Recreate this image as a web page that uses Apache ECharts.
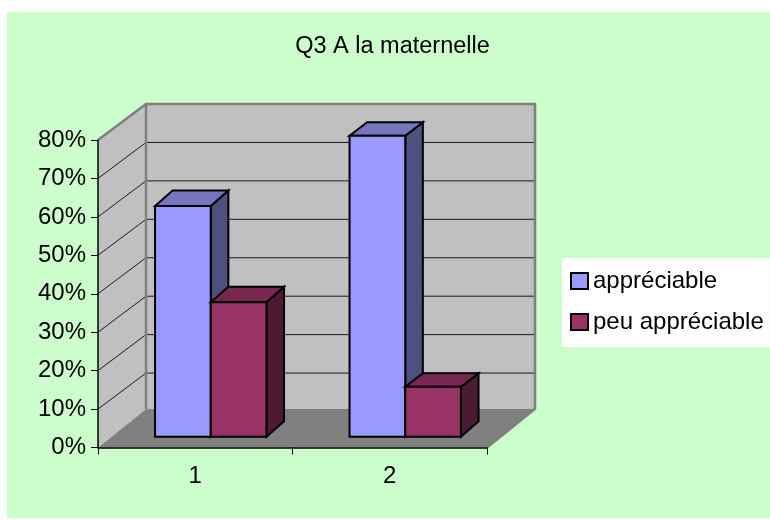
<!DOCTYPE html>
<html>
<head>
<meta charset="utf-8">
<style>
  html, body { margin: 0; padding: 0; background: #fff; }
  #main { width: 770px; height: 520px; }
</style>
<script src="https://cdn.jsdelivr.net/npm/echarts@6/dist/echarts.min.js"></script>
</head>
<body>
<div id="main"></div>
<script>
var categories = ['1', '2']
var appreciable = [60, 78.3]
var peuAppreciable = [35, 13]
var gridTicks = [10, 20, 30, 40, 50, 60, 70]

var fontName = '"Liberation Sans", Arial, sans-serif'
// depth of the fake 3d box, in pixels
var wallDx = 48
var floorDy = -38.5
var wallDy = -36
var barDx = 17.6
var barDy = [-15.5, -13.5]
var barInsetDx = 15.5
var barInsetDy = -10.8
var barWidth = 55.7

function poly (points, fill, stroke, lineWidth) {
  return {
    type: 'polygon',
    shape: { points: points },
    style: { fill: fill, stroke: stroke, lineWidth: lineWidth || 0, lineJoin: 'miter' }
  }
}

function line (a, b, color, width) {
  return {
    type: 'line',
    shape: { x1: a[0], y1: a[1], x2: b[0], y2: b[1] },
    style: { stroke: color, lineWidth: width }
  }
}

function renderWalls (params, api) {
  var cs = params.coordSys
  var left = cs.x
  var right = cs.x + cs.width
  var bottom = api.coord([0, 0])[1]
  var top = api.coord([0, 80])[1]
  var backBottom = bottom + floorDy
  var backTop = top + wallDy
  var kids = []
  kids.push(poly([[left, bottom], [right, bottom], [right + wallDx, backBottom], [left + wallDx, backBottom]], '#808080'))
  kids.push(poly([[left, bottom], [left + wallDx, backBottom], [left + wallDx, backTop], [left, top]], '#C0C0C0'))
  kids.push(poly([[left + wallDx, backBottom], [right + wallDx, backBottom], [right + wallDx, backTop], [left + wallDx, backTop]], '#C0C0C0'))
  gridTicks.forEach(function (t) {
    var y = api.coord([0, t])[1]
    kids.push(line([left, y], [left + wallDx, y + wallDy], '#1a1a1a', 1))
    kids.push(line([left + wallDx, y + wallDy], [right + wallDx, y + wallDy], '#1a1a1a', 1))
  })
  // wall outline
  kids.push({
    type: 'polyline',
    shape: { points: [[left, top], [left + wallDx, backTop], [right + wallDx, backTop], [right + wallDx, backBottom], [right, bottom]] },
    style: { fill: 'none', stroke: '#808080', lineWidth: 2.5 }
  })
  kids.push(line([left + wallDx, backTop], [left + wallDx, backBottom], '#808080', 2.5))
  return { type: 'group', children: kids }
}

function barRenderer (slot, colors) {
  return function (params, api) {
    var idx = api.value(0)
    var c = api.coord([idx, api.value(1)])
    var b = api.coord([idx, 0])
    var x0 = c[0] + barInsetDx + (slot - 1) * barWidth
    var x1 = x0 + barWidth
    var yt = c[1] + barInsetDy
    var yb = b[1] + barInsetDy
    var topDy = barDy[idx]
    return {
      type: 'group',
      children: [
        poly([[x1, yb], [x1 + barDx, yb + barDy[0]], [x1 + barDx, yt + topDy], [x1, yt]], colors.side, '#000', 2),
        poly([[x0, yt], [x1, yt], [x1 + barDx, yt + topDy], [x0 + barDx, yt + topDy]], colors.top, '#000', 2),
        poly([[x0, yb], [x1, yb], [x1, yt], [x0, yt]], colors.front, '#000', 2)
      ]
    }
  }
}

function toData (vals) {
  return vals.map(function (v, i) { return [i, v] })
}

var chart = echarts.init(document.getElementById('main'))
chart.setOption({
  animation: false,
  graphic: [{
    type: 'rect',
    z: -10,
    shape: { x: 7, y: 12, width: 763, height: 506 },
    style: { fill: '#CCFFCC' }
  }],
  title: {
    text: 'Q3 A la maternelle',
    left: 387.5,
    top: 30,
    textAlign: 'center',
    textStyle: { fontFamily: fontName, fontSize: 23.5, fontWeight: 'normal', color: '#000' }
  },
  legend: {
    orient: 'vertical',
    left: 562,
    top: 258,
    padding: [11, 6, 13, 8],
    itemGap: 17,
    itemWidth: 17,
    itemHeight: 16,
    backgroundColor: '#fff',
    icon: 'rect',
    data: ['appréciable', 'peu appréciable'],
    textStyle: { fontFamily: fontName, fontSize: 24, color: '#000' }
  },
  grid: { left: 98, top: 140, width: 389, height: 307.5, containLabel: false },
  xAxis: {
    type: 'category',
    data: categories,
    z: 5,
    axisLine: { lineStyle: { color: '#000', width: 1.5 } },
    axisTick: { show: true, length: 7, lineStyle: { color: '#000', width: 1 } },
    axisLabel: { fontFamily: fontName, fontSize: 24, color: '#000', margin: 17 }
  },
  yAxis: {
    type: 'value',
    min: 0,
    max: 80,
    interval: 10,
    z: 5,
    splitLine: { show: false },
    axisLine: { show: true, lineStyle: { color: '#000', width: 1.5 } },
    axisTick: { show: true, length: 7, lineStyle: { color: '#000', width: 1 } },
    axisLabel: { fontFamily: fontName, fontSize: 24, color: '#000', margin: 12, formatter: '{value}%' }
  },
  series: [
    {
      type: 'custom',
      name: 'walls',
      z: 1,
      silent: true,
      renderItem: renderWalls,
      data: [[0, 0]],
      encode: { x: 0, y: 1 }
    },
    {
      type: 'custom',
      name: 'appréciable',
      z: 2,
      itemStyle: { color: '#9999FF', borderColor: '#000', borderWidth: 2 },
      renderItem: barRenderer(0, { front: '#9999FF', top: '#7676BE', side: '#4F4F80' }),
      data: toData(appreciable),
      encode: { x: 0, y: 1 }
    },
    {
      type: 'custom',
      name: 'peu appréciable',
      z: 3,
      itemStyle: { color: '#993366', borderColor: '#000', borderWidth: 2 },
      renderItem: barRenderer(1, { front: '#993366', top: '#782850', side: '#4D1A33' }),
      data: toData(peuAppreciable),
      encode: { x: 0, y: 1 }
    }
  ]
})
</script>
</body>
</html>
